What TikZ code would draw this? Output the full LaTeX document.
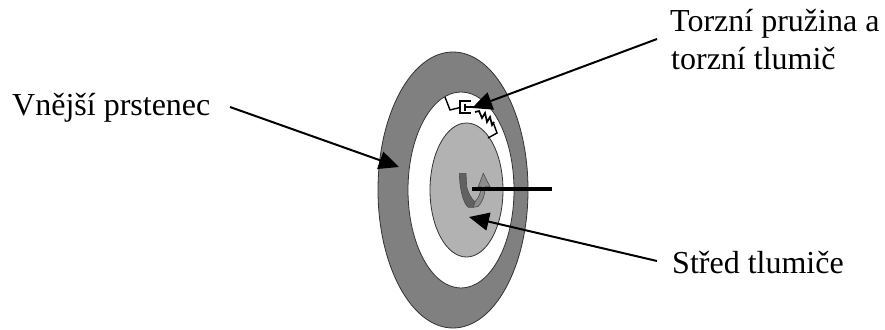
\documentclass[tikz,border=0pt]{standalone}
\usepackage{fontspec}
\setmainfont{Liberation Serif}
\usetikzlibrary{arrows.meta}
\definecolor{ringgray}{gray}{0.5}
\definecolor{hubgray}{gray}{0.70}
\tikzset{
  part/.style={draw=black!80,line width=0.8pt},
  lbl/.style={font=\fontsize{32}{38}\selectfont,inner sep=0pt,align=left,text=black},
  leader/.style={draw=black,line width=2pt,-{Triangle[length=20pt,width=18pt]}},
  mech/.style={draw=black,line width=1.4pt,line join=miter},
}
\begin{document}
\begin{tikzpicture}[x=1pt,y=-1pt]
\useasboundingbox (0,0) rectangle (885,329);
\fill[white] (0,0) rectangle (885,329);
% rings
\path[part,fill=ringgray] (453,190) ellipse [x radius=75,y radius=138];
\path[part,fill=white] (461,190) ellipse [x radius=53,y radius=98];
\path[part,fill=hubgray] (466.5,190) ellipse [x radius=36.5,y radius=67];
% spring and damper
\draw[mech] (445,97) -- (450,110) -- (460,107.5);
\draw[mech] (471,101) -- (460,101) -- (460,113) -- (471,113);
\draw[mech] (465,103.5) -- (465,110.5);
\draw[mech] (465,107) -- (474,107);
\draw[mech,line width=1.7pt] (475,112) -- (479,111) -- (482,118) -- (485,113) -- (487,122) -- (490,117) -- (492,125) -- (494,122);
\draw[mech] (493,122) -- (497,133) -- (488,138);
% twist arrow
\fill[black!62,draw=black!70,line width=0.6pt] (459.3,173.3) -- (466,173.3) -- (466.7,186.7) .. controls (467.5,191) and (471,199) .. (475,201.7) -- (473.3,207.3) -- (468.3,207.3) .. controls (465,205) and (460,195) .. (459.3,173.3) -- cycle;
\fill[black!45,draw=black!70,line width=0.6pt] (473.3,207.3) -- (478,206.5) .. controls (482,203) and (485,196) .. (485,186.7) -- (490,186.7) -- (483.3,173.3) -- (478.3,186.7) -- (481,186.7) .. controls (481,192) and (479,198) .. (475,201.7) -- cycle;
% axle
\coordinate (axleA) at (472,189);
\coordinate (axleB) at (552,189);
\draw[black,line width=3.8pt] (axleA) -- (axleB);
% labels
\node[lbl,anchor=base west] (outer) at (12,115) {Vnější prstenec};
\node[lbl,anchor=base west] (spring1) at (670,32) {Torzní pružina a};
\node[lbl,anchor=base west] (spring2) at (671,69) {torzní tlumič};
\node[lbl,anchor=base west] (hub) at (672,273) {Střed tlumiče};
% leaders
\coordinate (outerS) at (230,107);
\coordinate (outerT) at (399,167);
\coordinate (springS) at (657,39);
\coordinate (springT) at (472,108);
\coordinate (hubS) at (657,261);
\coordinate (hubT) at (469,217);
\draw[leader] (outerS) -- (outerT);
\draw[leader] (springS) -- (springT);
\draw[leader] (hubS) -- (hubT);
\end{tikzpicture}
\end{document}
